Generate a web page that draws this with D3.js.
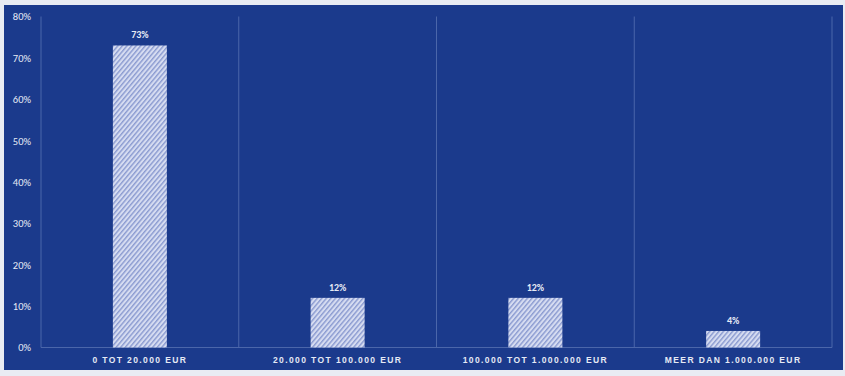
<!DOCTYPE html>
<html><head><meta charset="utf-8">
<script src="https://cdn.jsdelivr.net/npm/d3@7"></script>
<style>html,body{margin:0;padding:0;background:#fff;}svg{display:block;}</style>
</head><body>
<svg id="c" width="845" height="376"></svg>
<script>
const categories = ["0 TOT 20.000 EUR","20.000 TOT 100.000 EUR","100.000 TOT 1.000.000 EUR","MEER DAN 1.000.000 EUR"];
const values = [73, 12, 12, 4];
const valueLabels = ["73%","12%","12%","4%"];
const yTicks = [0,10,20,30,40,50,60,70,80];

const svg = d3.select("#c");
const bg = "#1b3a8c";
svg.append("rect").attr("x",0).attr("y",0).attr("width",845).attr("height",376).attr("fill","#e9ecf3");
svg.append("rect").attr("x",4).attr("y",5).attr("width",839).attr("height",365).attr("fill",bg);

const defs = svg.append("defs");
const pat = defs.append("pattern").attr("id","hatch").attr("patternUnits","userSpaceOnUse")
  .attr("width",3.5).attr("height",4).attr("patternTransform","rotate(40)");
pat.append("rect").attr("width",3.5).attr("height",4).attr("fill","#d6dcf1");
pat.append("rect").attr("width",1.4).attr("height",4).attr("fill","#8a9ad0");

const m = {l:41, r:832, t:16.5, b:347.5};
const x = d3.scaleBand().domain(categories).range([m.l,m.r]).paddingInner(0).paddingOuter(0);
const y = d3.scaleLinear().domain([0,80]).range([m.b,m.t]);

const bounds = categories.map(c=>x(c)).concat([m.r]);
svg.append("g").selectAll("line").data(bounds).join("line")
  .attr("x1",d=>d).attr("x2",d=>d).attr("y1",m.t).attr("y2",m.b)
  .attr("stroke","#4b66aa").attr("stroke-width",1);
svg.append("line").attr("x1",m.l).attr("x2",m.r).attr("y1",m.b).attr("y2",m.b)
  .attr("stroke","#4b66aa").attr("stroke-width",1);

const yAxis = d3.axisLeft(y).tickValues(yTicks).tickFormat(d=>d+"%").tickSize(0).tickPadding(0);
const gy = svg.append("g").attr("transform",`translate(31,0)`).call(yAxis);
gy.select(".domain").remove();
gy.selectAll("text").attr("fill","#e6eaf5").style("font-family","Calibri, Carlito, 'Liberation Sans', sans-serif").style("font-size","10.5px");

const bw = 54;
svg.append("g").selectAll("rect").data(values).join("rect")
  .attr("x",(d,i)=>x(categories[i])+x.bandwidth()/2-bw/2)
  .attr("y",d=>y(d)).attr("width",bw).attr("height",d=>m.b-y(d))
  .attr("fill","url(#hatch)");

svg.append("g").selectAll("text").data(values).join("text")
  .attr("x",(d,i)=>x(categories[i])+x.bandwidth()/2)
  .attr("y",d=>y(d)-7)
  .attr("text-anchor","middle")
  .attr("fill","#e6eaf5").attr("font-weight","bold")
  .style("font-family","Calibri, Carlito, 'Liberation Sans', sans-serif").style("font-size","10px")
  .text((d,i)=>valueLabels[i]);

const xAxis = d3.axisBottom(x).tickSize(0).tickPadding(0);
const gx = svg.append("g").attr("transform",`translate(0,${m.b+9})`).call(xAxis);
gx.select(".domain").remove();
gx.selectAll("text").attr("fill","#e6eaf5").attr("font-weight","bold")
  .style("font-family","'Liberation Sans', sans-serif").style("font-size","8.5px")
  .style("letter-spacing","1.4px");
</script>
</body></html>
